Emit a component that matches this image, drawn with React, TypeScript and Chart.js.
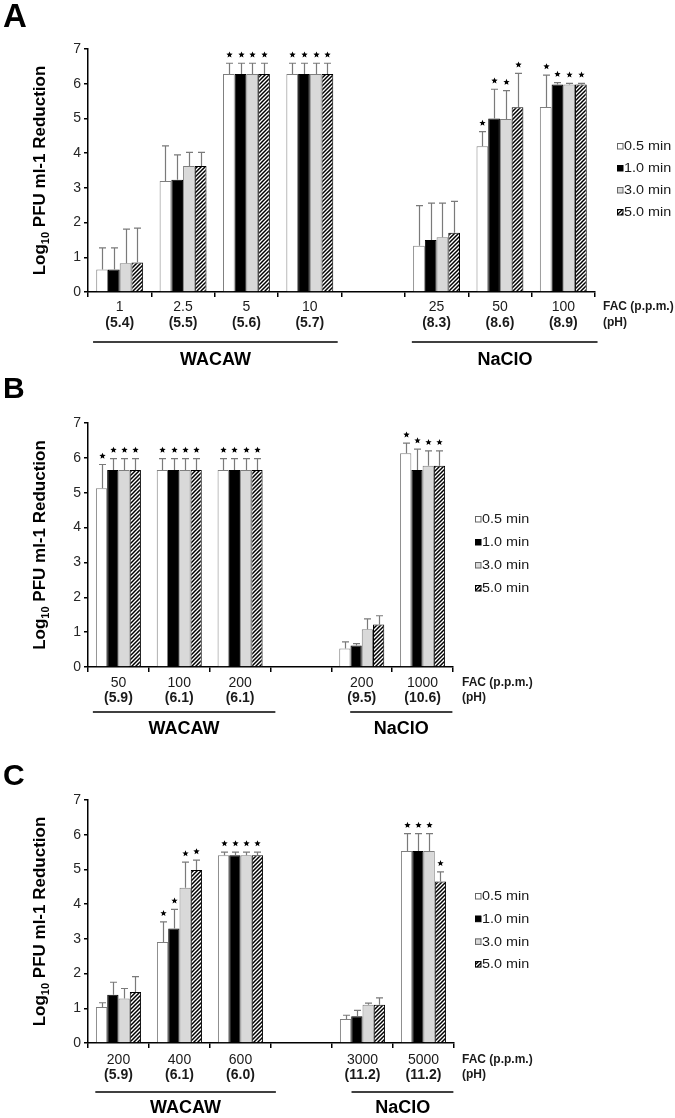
import React, { useEffect, useRef, useState } from 'react';
import { Chart, registerables } from 'chart.js';
Chart.register(...registerables);

// ---------- data ----------
const seriesLabels = ['0.5 min', '1.0 min', '3.0 min', '5.0 min'];

// Panel A
const aFac = ['1', '2.5', '5', '10', '', '25', '50', '100'];
const aPh = ['(5.4)', '(5.5)', '(5.6)', '(5.7)', '', '(8.3)', '(8.6)', '(8.9)'];
const aMean05 = [0.65, 3.2, 6.28, 6.28, null, 1.33, 4.2, 5.33];
const aMean10 = [0.65, 3.23, 6.28, 6.28, null, 1.5, 5.0, 5.98];
const aMean30 = [0.83, 3.63, 6.28, 6.28, null, 1.58, 4.98, 5.98];
const aMean50 = [0.85, 3.63, 6.28, 6.28, null, 1.71, 5.32, 5.98];
const aErr05 = [0.62, 1.01, 0.31, 0.31, null, 1.16, 0.42, 0.92];
const aErr10 = [0.62, 0.72, 0.31, 0.31, null, 1.06, 0.84, 0.05];
const aErr30 = [0.98, 0.39, 0.31, 0.31, null, 0.98, 0.82, 0.03];
const aErr50 = [0.99, 0.39, 0.31, 0.31, null, 0.9, 0.98, 0.03];
const aStar05 = [0, 0, 1, 1, 0, 0, 1, 1];
const aStar10 = [0, 0, 1, 1, 0, 0, 1, 1];
const aStar30 = [0, 0, 1, 1, 0, 0, 1, 1];
const aStar50 = [0, 0, 1, 1, 0, 0, 1, 1];

// Panel B
const bFac = ['50', '100', '200', '', '200', '1000'];
const bPh = ['(5.9)', '(6.1)', '(6.1)', '', '(9.5)', '(10.6)'];
const bMean05 = [5.13, 5.65, 5.65, null, 0.53, 6.13];
const bMean10 = [5.65, 5.65, 5.65, null, 0.62, 5.65];
const bMean30 = [5.65, 5.65, 5.65, null, 1.08, 5.77];
const bMean50 = [5.65, 5.65, 5.65, null, 1.22, 5.77];
const bErr05 = [0.68, 0.33, 0.33, null, 0.19, 0.29];
const bErr10 = [0.33, 0.33, 0.33, null, 0.05, 0.6];
const bErr30 = [0.33, 0.33, 0.33, null, 0.3, 0.43];
const bErr50 = [0.33, 0.33, 0.33, null, 0.25, 0.43];
const bStar05 = [1, 1, 1, 0, 0, 1];
const bStar10 = [1, 1, 1, 0, 0, 1];
const bStar30 = [1, 1, 1, 0, 0, 1];
const bStar50 = [1, 1, 1, 0, 0, 1];

// Panel C
const cFac = ['200', '400', '600', '', '3000', '5000'];
const cPh = ['(5.9)', '(6.1)', '(6.0)', '', '(11.2)', '(11.2)'];
const cMean05 = [1.04, 2.91, 5.41, null, 0.69, 5.53];
const cMean10 = [1.39, 3.3, 5.41, null, 0.77, 5.53];
const cMean30 = [1.28, 4.47, 5.41, null, 1.1, 5.53];
const cMean50 = [1.47, 4.98, 5.41, null, 1.1, 4.65];
const cErr05 = [0.12, 0.58, 0.09, null, 0.11, 0.5];
const cErr10 = [0.36, 0.55, 0.09, null, 0.17, 0.5];
const cErr30 = [0.29, 0.74, 0.09, null, 0.05, 0.5];
const cErr50 = [0.44, 0.29, 0.09, null, 0.2, 0.28];
const cStar05 = [0, 1, 1, 0, 0, 1];
const cStar10 = [0, 1, 1, 0, 0, 1];
const cStar30 = [0, 1, 1, 0, 0, 1];
const cStar50 = [0, 1, 1, 0, 0, 1];

const groupNames = ['WACAW', 'NaClO'];

// ---------- layout ----------
const W = 675;
const FONT = '"Liberation Sans", Arial, Helvetica, sans-serif';

const panels = [
  {
    letter: 'A', letterSize: 33, letterBase: 27,
    top: 0, height: 370, chartTop: 49, chartBottom: 292, chartRight: 595,
    fac: aFac, ph: aPh,
    means: [aMean05, aMean10, aMean30, aMean50],
    errs: [aErr05, aErr10, aErr30, aErr50],
    stars: [aStar05, aStar10, aStar30, aStar50],
    groups: [[-0.42, 3.44, 1.51], [4.61, 7.54, 6.08]],
    offs: [15, 31, 50, 68],
    facX: 603, legendX: 617, legendY: 146, legendStep: 22,
  },
  {
    letter: 'B', letterSize: 30, letterBase: 398,
    top: 370, height: 370, chartTop: 423, chartBottom: 667, chartRight: 453,
    fac: bFac, ph: bPh,
    means: [bMean05, bMean10, bMean30, bMean50],
    errs: [bErr05, bErr10, bErr30, bErr50],
    stars: [bStar05, bStar10, bStar30, bStar50],
    groups: [[-0.42, 2.58, 1.08], [3.81, 5.49, 4.65]],
    offs: [16, 31, 45, 62],
    facX: 462, legendX: 475, legendY: 519, legendStep: 23,
  },
  {
    letter: 'C', letterSize: 30, letterBase: 785,
    top: 740, height: 378, chartTop: 800, chartBottom: 1043, chartRight: 454,
    fac: cFac, ph: cPh,
    means: [cMean05, cMean10, cMean30, cMean50],
    errs: [cErr05, cErr10, cErr30, cErr50],
    stars: [cStar05, cStar10, cStar30, cStar50],
    groups: [[-0.38, 2.58, 1.1], [3.82, 5.49, 4.66]],
    offs: [17, 32, 49, 65],
    facX: 462, legendX: 475, legendY: 896, legendStep: 22.7,
  },
];

function makeHatch(): any {
  const s = 4;
  const c = document.createElement('canvas');
  c.width = s; c.height = s;
  const x = c.getContext('2d');
  if (!x) return '#888';
  x.fillStyle = '#fff';
  x.fillRect(0, 0, s, s);
  x.strokeStyle = '#000';
  x.lineWidth = 1.5;
  x.beginPath();
  x.moveTo(0, s); x.lineTo(s, 0);
  x.moveTo(-1, 1); x.lineTo(1, -1);
  x.moveTo(s - 1, s + 1); x.lineTo(s + 1, s - 1);
  x.stroke();
  return x.createPattern(c, 'repeat') || '#888';
}

function drawStar(ctx: CanvasRenderingContext2D, cx: number, cy: number, r: number) {
  ctx.beginPath();
  for (let i = 0; i < 10; i++) {
    const rr = i % 2 === 0 ? r : r * 0.45;
    const a = -Math.PI / 2 + (i * Math.PI) / 5;
    const px = cx + rr * Math.cos(a);
    const py = cy + rr * Math.sin(a);
    if (i === 0) ctx.moveTo(px, py); else ctx.lineTo(px, py);
  }
  ctx.closePath();
  ctx.fill();
}

function Panel({ p, onErr }: { p: any; onErr: (s: string) => void }) {
  const ref = useRef<HTMLCanvasElement>(null);
  useEffect(() => {
    const canvas = ref.current;
    if (!canvas) return;
    let chart: any = null;
    try {
      const hatch = makeHatch();
      const fills = ['#ffffff', '#000000', '#d9d9d9', hatch];
      const borders = ['#7f7f7f', '#000000', '#7f7f7f', '#000000'];
      const off = p.top;

      const overlay = {
        id: 'overlay',
        afterDatasetsDraw(ch: any) {
          try {
            const ctx: CanvasRenderingContext2D = ch.ctx;
            const ys = ch.scales.y;
            ctx.save();
            ch.data.datasets.forEach((ds: any, di: number) => {
              const meta = ch.getDatasetMeta(di);
              meta.data.forEach((bar: any, j: number) => {
                const v = p.means[di][j];
                if (v == null) return;
                const e = p.errs[di][j] || 0;
                const x = Math.round(bar.x) + 0.5;
                const topY = ys.getPixelForValue(v + e);
                ctx.strokeStyle = '#7a7a7a';
                ctx.lineWidth = 1.2;
                ctx.beginPath();
                ctx.moveTo(x, bar.y);
                ctx.lineTo(x, topY);
                ctx.moveTo(x - 3.5, topY);
                ctx.lineTo(x + 3.5, topY);
                ctx.stroke();
                if (p.stars[di][j]) {
                  ctx.fillStyle = '#000';
                  drawStar(ctx, x, topY - 8.5, 3.3);
                }
              });
            });
            ctx.restore();
          } catch (err: any) { onErr('ds:' + String(err && err.stack)); }
        },
        afterDraw(ch: any) {
          try {
            const ctx: CanvasRenderingContext2D = ch.ctx;
            const xs = ch.scales.x;
            const area = ch.chartArea;
            const bottom = area.bottom;
            ctx.save();
            ctx.fillStyle = '#000';

            // panel letter
            ctx.font = `bold ${p.letterSize}px ${FONT}`;
            ctx.textAlign = 'left';
            ctx.textBaseline = 'alphabetic';
            ctx.fillText(p.letter, 3, p.letterBase - off);

            // rotated y title with subscript
            const cy = (area.top + area.bottom) / 2;
            ctx.save();
            ctx.translate(45, cy);
            ctx.rotate(-Math.PI / 2);
            const big = `bold 17px ${FONT}`;
            const small = `bold 11px ${FONT}`;
            const t1 = 'Log';
            const t2 = '10';
            const t3 = ' PFU ml-1 Reduction';
            ctx.font = big;
            const w1 = ctx.measureText(t1).width;
            const w3 = ctx.measureText(t3).width;
            ctx.font = small;
            const w2 = ctx.measureText(t2).width;
            let sx = -(w1 + w2 + w3) / 2;
            ctx.font = big;
            ctx.fillText(t1, sx, 0);
            sx += w1;
            ctx.font = small;
            ctx.fillText(t2, sx, 4);
            sx += w2;
            ctx.font = big;
            ctx.fillText(t3, sx, 0);
            ctx.restore();

            // two-line category labels
            ctx.textAlign = 'center';
            ctx.textBaseline = 'middle';
            ctx.fillStyle = '#1a1a1a';
            p.fac.forEach((f: string, i: number) => {
              const x = xs.getPixelForValue(i);
              ctx.font = `14px ${FONT}`;
              ctx.fillText(f, x, bottom + p.offs[0]);
              ctx.font = `bold 14px ${FONT}`;
              ctx.fillText(p.ph[i], x, bottom + p.offs[1]);
            });
            ctx.textAlign = 'left';
            ctx.font = `bold 12px ${FONT}`;
            ctx.fillText('FAC (p.p.m.)', p.facX, bottom + p.offs[0]);
            ctx.fillText('(pH)', p.facX, bottom + p.offs[1]);

            // group brackets
            const base = xs.getPixelForValue(0);
            const unit = xs.getPixelForValue(1) - base;
            ctx.strokeStyle = '#000';
            ctx.lineWidth = 1.6;
            p.groups.forEach((g: number[], gi: number) => {
              ctx.beginPath();
              ctx.moveTo(base + g[0] * unit, bottom + p.offs[2]);
              ctx.lineTo(base + g[1] * unit, bottom + p.offs[2]);
              ctx.stroke();
              ctx.font = `bold 18px ${FONT}`;
              ctx.textAlign = 'center';
              ctx.fillStyle = '#000';
              ctx.fillText(groupNames[gi], base + g[2] * unit, bottom + p.offs[3]);
            });

            // legend
            seriesLabels.forEach((lab, i) => {
              const y = p.legendY - off + i * p.legendStep;
              ctx.fillStyle = fills[i];
              ctx.fillRect(p.legendX, y - 3, 6, 6);
              ctx.strokeStyle = i === 1 || i === 3 ? '#000' : '#666';
              ctx.lineWidth = 1;
              ctx.strokeRect(p.legendX + 0.5, y - 2.5, 5.5, 5.5);
              ctx.save();
              ctx.translate(p.legendX + 7, y);
              ctx.scale(1.2, 1);
              ctx.fillStyle = '#1a1a1a';
              ctx.font = `12px ${FONT}`;
              ctx.textAlign = 'left';
              ctx.textBaseline = 'middle';
              ctx.fillText(lab, 0, 1);
              ctx.restore();
            });
            ctx.restore();
          } catch (err: any) { onErr('draw:' + String(err && err.stack)); }
        },
      };

      chart = new Chart(canvas, {
        type: 'bar',
        data: {
          labels: p.fac,
          datasets: seriesLabels.map((lab, i) => ({
            label: lab,
            data: p.means[i],
            backgroundColor: fills[i],
            borderColor: borders[i],
            borderWidth: 1,
            categoryPercentage: 0.74,
            barPercentage: 1.0,
          })),
        },
        options: {
          responsive: false,
          maintainAspectRatio: false,
          animation: false,
          layout: {
            padding: { top: p.chartTop - off, right: W - p.chartRight, bottom: 0, left: 0 },
          },
          plugins: { legend: { display: false }, tooltip: { enabled: false } },
          scales: {
            x: {
              type: 'category',
              grid: {
                offset: true,
                drawOnChartArea: false,
                drawTicks: true,
                tickLength: 5,
                color: '#000',
                lineWidth: 1.5,
              },
              border: { display: true, color: '#000', width: 1.5 },
              ticks: { display: false },
              afterFit: (s: any) => { s.height = p.height - (p.chartBottom - off); },
            },
            y: {
              min: 0,
              max: 7,
              ticks: {
                stepSize: 1,
                font: { family: FONT, size: 14 },
                color: '#262626',
                padding: 3,
              },
              grid: {
                drawOnChartArea: false,
                drawTicks: true,
                tickLength: 4,
                color: '#000',
                lineWidth: 1.5,
              },
              border: { display: true, color: '#000', width: 1.5 },
              afterFit: (s: any) => { s.width = 88; },
            },
          },
        } as any,
        plugins: [overlay],
      });
    } catch (err: any) {
      onErr('init:' + String(err && err.stack));
    }
    return () => { if (chart) chart.destroy(); };
  }, []);
  return (
    <canvas
      ref={ref}
      width={W}
      height={p.height}
      style={{ position: 'absolute', left: 0, top: p.top, width: W, height: p.height, display: 'block' }}
    />
  );
}

export default function App() {
  const [err, setErr] = useState('');
  return (
    <div>
      {panels.map((p) => (
        <Panel key={p.letter} p={p} onErr={(s) => setErr((e) => (e ? e : s))} />
      ))}
      {err ? <pre style={{ position: 'absolute', left: 0, top: 0, fontSize: 11, whiteSpace: 'pre-wrap', width: 660 }}>{err}</pre> : null}
    </div>
  );
}
